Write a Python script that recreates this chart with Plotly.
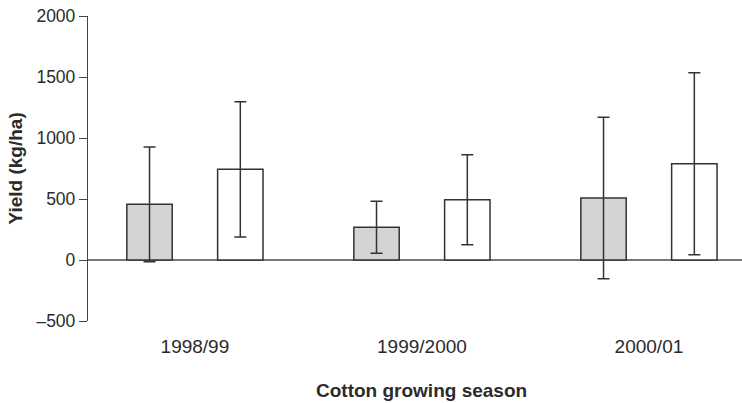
import plotly.graph_objects as go

seasons = ["1998/99", "1999/2000", "2000/01"]
gray_mean = [456, 268, 508]
gray_err = [470, 213, 662]
white_mean = [743, 494, 789]
white_err = [554, 368, 745]
ytick_vals = [-500, 0, 500, 1000, 1500, 2000]
ytick_text = ["\u2013500", "0", "500", "1000", "1500", "2000"]

FONT = "Liberation Sans, Arial, Helvetica, sans-serif"
INK = "#2b2b2b"

fig = go.Figure()
fig.add_trace(go.Bar(
    x=seasons, y=gray_mean, width=0.2, offset=-0.3,
    marker=dict(color="#d3d4d6", line=dict(color="#333333", width=1.5)),
    error_y=dict(type="data", array=gray_err, visible=True,
                 color="#333333", thickness=1.5, width=6),
    showlegend=False,
))
fig.add_trace(go.Bar(
    x=seasons, y=white_mean, width=0.2, offset=0.1,
    marker=dict(color="#ffffff", line=dict(color="#333333", width=1.5)),
    error_y=dict(type="data", array=white_err, visible=True,
                 color="#333333", thickness=1.5, width=6),
    showlegend=False,
))

fig.update_layout(
    width=742, height=403,
    margin=dict(l=88, r=0, t=16, b=82),
    paper_bgcolor="white", plot_bgcolor="white",
    barmode="overlay",
    font=dict(family=FONT, color=INK),
    xaxis=dict(
        type="category", range=[-0.471, 2.41],
        showline=False, showgrid=False, zeroline=False,
        ticks="outside", ticklen=8, tickcolor="rgba(0,0,0,0)",
        tickfont=dict(size=19, family=FONT, color=INK),
    ),
    yaxis=dict(
        range=[-500, 2000], tickvals=ytick_vals, ticktext=ytick_text,
        showline=True, linecolor="#444444", linewidth=1.3,
        ticks="outside", ticklen=8, tickcolor="#444444", tickwidth=1.3,
        showgrid=False,
        zeroline=True, zerolinecolor="#777777", zerolinewidth=1.5,
        tickfont=dict(size=17.5, family=FONT, color=INK),
    ),
    annotations=[
        dict(text="<b>Cotton growing season</b>", xref="x", yref="paper",
             x=1, y=-0.2295, xanchor="center", yanchor="middle",
             showarrow=False, font=dict(size=19, family=FONT, color=INK)),
        dict(text="<b>Yield (kg/ha)</b>", xref="paper", yref="paper",
             x=-0.1116, y=0.5, xanchor="center", yanchor="middle",
             textangle=-90, showarrow=False,
             font=dict(size=19, family=FONT, color=INK)),
    ],
)

fig.write_html(
    "out.html",
    config={"displayModeBar": False},
    post_script="document.body.style.margin='0';document.body.style.overflow='hidden';",
)
